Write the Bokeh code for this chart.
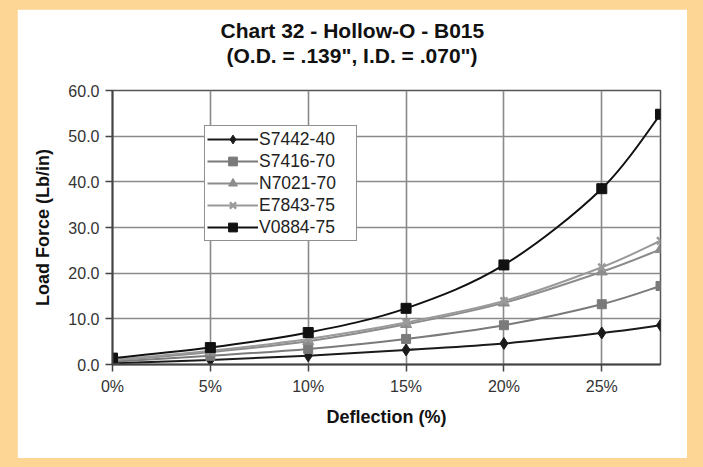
from bokeh.plotting import figure
from bokeh.models import Range1d, FixedTicker, Legend, LegendItem, Title, ColumnDataSource
from bokeh.embed import file_html
from bokeh.resources import INLINE

# ---------------- data ----------------
deflection = [0, 5, 10, 15, 20, 25, 28]
x_tick_values = [0, 5, 10, 15, 20, 25]
x_tick_labels = ["0%", "5%", "10%", "15%", "20%", "25%"]
y_tick_values = [0, 10, 20, 30, 40, 50, 60]
y_tick_labels = ["0.0", "10.0", "20.0", "30.0", "40.0", "50.0", "60.0"]

series_names = ["S7442-40", "S7416-70", "N7021-70", "E7843-75", "V0884-75"]
s7442_40 = [0.3, 1.0, 1.9, 3.2, 4.6, 6.9, 8.6]
s7416_70 = [0.6, 1.9, 3.4, 5.6, 8.6, 13.2, 17.2]
n7021_70 = [0.9, 2.7, 5.1, 8.8, 13.5, 20.3, 25.2]
e7843_75 = [1.0, 3.0, 5.6, 9.2, 13.9, 21.3, 27.1]
v0884_75 = [1.4, 3.7, 7.0, 12.3, 21.8, 38.5, 54.8]
series_values = [s7442_40, s7416_70, n7021_70, e7843_75, v0884_75]

title_line1 = "Chart 32 - Hollow-O - B015"
title_line2 = "(O.D. = .139\", I.D. = .070\")"
x_label = "Deflection (%)"
y_label = "Load Force (Lb/in)"

# ---------------- styles ----------------
FONT = "Liberation Sans"
PAGE_BG = "#FDD594"
line_colors = ["#1a1a1a", "#7a7a7a", "#8c8c8c", "#9a9a9a", "#111111"]
markers = ["diamond", "square", "triangle", "x", "square"]
marker_sizes = [12, 9, 11, 10, 10]


def smooth_segments(xs, ys):
    """Catmull-Rom style cubic bezier segments through the data points."""
    n = len(xs)
    d = dict(x0=[], y0=[], x1=[], y1=[], cx0=[], cy0=[], cx1=[], cy1=[])
    for i in range(n - 1):
        a = i - 1 if i > 0 else i
        b = i + 2 if i + 2 < n else i + 1
        d["x0"].append(xs[i]); d["y0"].append(ys[i])
        d["x1"].append(xs[i + 1]); d["y1"].append(ys[i + 1])
        d["cx0"].append(xs[i] + (xs[i + 1] - xs[a]) / 6.0)
        d["cy0"].append(ys[i] + (ys[i + 1] - ys[a]) / 6.0)
        d["cx1"].append(xs[i + 1] - (xs[b] - xs[i]) / 6.0)
        d["cy1"].append(ys[i + 1] - (ys[b] - ys[i]) / 6.0)
    return d


p = figure(width=670, height=449, output_backend="svg", toolbar_location=None,
           title=None,
           x_range=Range1d(0, 28), y_range=Range1d(0, 60),
           min_border_left=95, min_border_right=27, min_border_top=81, min_border_bottom=94,
           background_fill_color="white", border_fill_color="white",
           outline_line_color="#555555", outline_line_width=1.5)
p.margin = (9, 0, 0, 17)

# titles: a thin spacer next to the frame, then the two title lines
p.add_layout(Title(text=" ", text_font_size="1px", standoff=21), "above")
p.add_layout(Title(text=title_line2, align="left", offset=114, standoff=0,
                   text_font=FONT, text_font_style="bold", text_font_size="21px",
                   text_color="#111111"), "above")
p.add_layout(Title(text=title_line1, align="left", offset=108, standoff=0,
                   text_font=FONT, text_font_style="bold", text_font_size="21px",
                   text_color="#111111"), "above")

# axes
p.xaxis.ticker = FixedTicker(ticks=x_tick_values)
p.xaxis.major_label_overrides = {v: t for v, t in zip(x_tick_values, x_tick_labels)}
p.yaxis.ticker = FixedTicker(ticks=y_tick_values)
p.yaxis.major_label_overrides = {v: t for v, t in zip(y_tick_values, y_tick_labels)}
p.xaxis.axis_label = x_label
p.yaxis.axis_label = y_label
for ax in (p.xaxis, p.yaxis):
    ax.axis_line_color = "#444444"
    ax.axis_line_width = 2
    ax.major_tick_line_color = "#444444"
    ax.major_tick_line_width = 1.5
    ax.major_tick_in = 0
    ax.major_tick_out = 7
    ax.minor_tick_line_color = None
    ax.major_label_text_font = FONT
    ax.major_label_text_font_size = "16px"
    ax.major_label_text_color = "#333333"
    ax.axis_label_text_font = FONT
    ax.axis_label_text_font_size = "18px"
    ax.axis_label_text_font_style = "bold"
    ax.axis_label_text_color = "#111111"
p.xaxis.major_label_standoff = 6
p.yaxis.major_label_standoff = 6
p.xaxis.axis_label_standoff = 9
p.yaxis.axis_label_standoff = 12

p.xgrid.grid_line_color = "#8a8a8a"
p.ygrid.grid_line_color = "#8a8a8a"
p.xgrid.grid_line_width = 1.6
p.ygrid.grid_line_width = 1.6

# series
items = []
for name, vals, col, mk, ms in zip(series_names, series_values, line_colors, markers, marker_sizes):
    seg = ColumnDataSource(smooth_segments(deflection, vals))
    r_line = p.bezier(x0="x0", y0="y0", x1="x1", y1="y1", cx0="cx0", cy0="cy0",
                      cx1="cx1", cy1="cy1", source=seg, line_color=col, line_width=2)
    pts = ColumnDataSource(dict(x=deflection, y=vals))
    if mk == "x":
        r_pts = p.scatter("x", "y", source=pts, marker=mk, size=ms,
                          line_color=col, line_width=2.5)
    else:
        r_pts = p.scatter("x", "y", source=pts, marker=mk, size=ms,
                          fill_color=col, line_color=col, line_width=1)
    items.append(LegendItem(label=name, renderers=[r_line, r_pts]))

legend = Legend(items=items, location=(92, 123), margin=0, padding=2, spacing=0,
                glyph_width=51, glyph_height=22, label_height=22, label_width=95,
                label_standoff=1,
                label_text_font=FONT, label_text_font_size="17.5px", label_text_color="#222222",
                border_line_color="#222222", border_line_width=1,
                background_fill_color="white", background_fill_alpha=1.0)
p.add_layout(legend, "center")

html = file_html(p, INLINE, title="Chart 32 - Hollow-O - B015")
style = "<style>html, body { background-color: %s !important; }</style>" % PAGE_BG
if "</head>" in html:
    html = html.replace("</head>", style + "</head>", 1)
else:
    html = style + html
open("out.html", "w").write(html)
